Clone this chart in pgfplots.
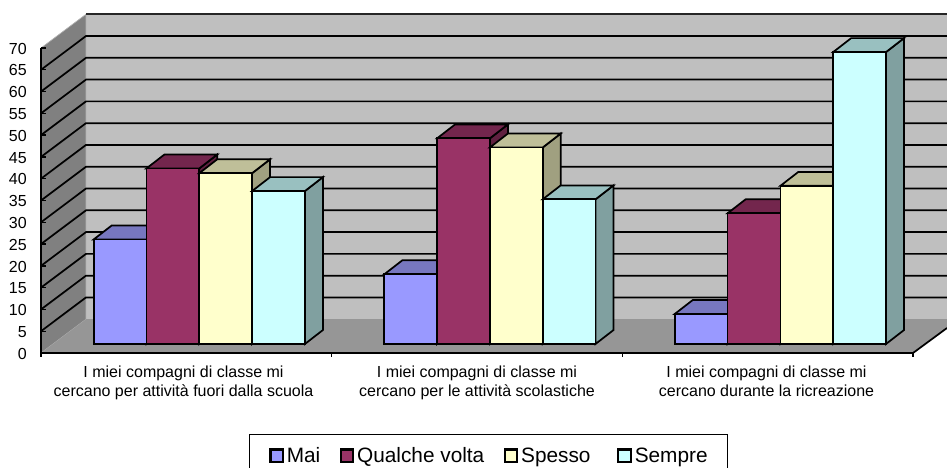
\documentclass[border=0pt]{standalone}
\usepackage{pgfplots}
\pgfplotsset{compat=1.18}
\usepackage{fontspec}
\setmainfont{Liberation Sans}
\definecolor{cMai}{HTML}{9999FF}
\definecolor{cQua}{HTML}{993366}
\definecolor{cSpe}{HTML}{FFFFCC}
\definecolor{cSem}{HTML}{CCFFFF}
\definecolor{tMai}{HTML}{7777BF}
\definecolor{tQua}{HTML}{73264D}
\definecolor{tSpe}{HTML}{BFBF99}
\definecolor{tSem}{HTML}{99C0C0}
\definecolor{sMai}{HTML}{6060A0}
\definecolor{sQua}{HTML}{602040}
\definecolor{sSpe}{HTML}{A0A080}
\definecolor{sSem}{HTML}{80A0A0}
\pgfplotsset{
  frame axis/.style={
    scale only axis, width=654pt, height=228.75pt,
    xmin=41, xmax=913, clip=false,
    at={(30.75pt,86.25pt)}, anchor=south west},
  my legend/.style={legend image code/.code={%
    \draw[##1,line width=1.6pt,draw=black] (0pt,-4.35pt) rectangle (9.5pt,5.15pt);}},
}
% back faces of one box: x of the bar centre, value, top colour, side colour
\newcommand{\faces}[4]{%
  \pgfmathsetmacro{\xl}{#1-26.4}\pgfmathsetmacro{\xr}{#1+26.4}%
  \pgfmathsetmacro{\xlb}{\xl+18}\pgfmathsetmacro{\xrb}{\xr+18}%
  \pgfmathsetmacro{\vb}{#2+3.2}%
  \addplot[forget plot,fill=#4,draw=black,line width=1.3pt] coordinates {(\xr,0)(\xrb,3.2)(\xrb,\vb)(\xr,#2)} --cycle;
  \addplot[forget plot,fill=#3,draw=black,line width=1.3pt] coordinates {(\xl,#2)(\xlb,\vb)(\xrb,\vb)(\xr,#2)} --cycle;
}
\begin{document}
\begin{tikzpicture}
\useasboundingbox (0,0) rectangle (710.25pt,351pt);
% frame: walls, floor, grid, axis
\begin{axis}[frame axis,
  axis on top,
  ymin=0, ymax=70,
  axis y line*=left, axis x line*=bottom,
  axis line style={-,line width=1.4pt},
  ytick={0,5,...,70},
  tick style={draw=black,line width=1pt},
  major tick length=3.6pt,
  /pgf/number format/assume math mode=true,
  yticklabel style={font=\fontsize{12}{14}\selectfont,xshift=-7.2pt,yshift=-.5pt},
  xtick={183.5,477,766.5},
  xtick style={draw=none},
  xticklabels={{I miei compagni di classe mi\\cercano per attività fuori dalla scuola},
               {I miei compagni di classe mi\\cercano per le attività scolastiche},
               {I miei compagni di classe mi\\cercano durante la ricreazione}},
  xticklabel style={font=\fontsize{12}{14}\selectfont,align=center,yshift=-6.3pt},
]
\addplot[forget plot,fill=black!25!white,draw=none] coordinates {(86,7.75)(947,7.75)(947,77.75)(86,77.75)} --cycle;
\addplot[forget plot,fill=black!50!white,draw=black!30,line width=.5pt] coordinates {(41,0)(86,7.75)(86,77.75)(41,70)} --cycle;
\addplot[forget plot,fill=black!41!white,draw=none] coordinates {(41,0)(86,7.75)(947,7.75)(947,5.74)(913,0)} --cycle;
\addplot[forget plot,black,line width=1.3pt] coordinates {(913,0)(947,5.74)};
\addplot[forget plot,black!85,line width=1.3pt] coordinates {(86,77.75)(947,77.75)};
\pgfplotsinvokeforeach{5,10,...,65}{%
  \pgfmathsetmacro{\vb}{#1+7.75}%
  \addplot[forget plot,black,line width=1.3pt] coordinates {(41,#1)(86,\vb)(947,\vb)};
}
\pgfplotsinvokeforeach{41,331.7,622.3,913}{%
  \addplot[forget plot,black,line width=1pt] coordinates {(#1,0)(#1,-0.9)};
}
\end{axis}
% boxes
\begin{axis}[frame axis, hide axis,
  ymin=-2.066, ymax=67.934,
  legend columns=-1,
  legend style={at={(axis cs:248.5,-20.66)},anchor=north west,
    draw=black,line width=.8pt,fill=white,
    font=\fontsize{15.6}{18}\selectfont,inner xsep=15.25pt,inner ysep=8pt,
    /tikz/every even column/.append style={column sep=12.5pt},
    /tikz/every odd column/.append style={column sep=0pt}},
]
\faces{120.1}{24}{tMai}{sMai}
\faces{410.7}{16}{tMai}{sMai}
\faces{701.2}{6.9}{tMai}{sMai}
\addplot[ybar,bar width=52.8,bar shift=-79.2,fill=cMai,draw=black,line width=1.3pt,my legend] coordinates {(199.3,24)(489.9,16)(780.4,6.9)};
\faces{172.9}{40.3}{tQua}{sQua}
\faces{463.5}{47.2}{tQua}{sQua}
\faces{754}{30}{tQua}{sQua}
\addplot[ybar,bar width=52.8,bar shift=-26.4,fill=cQua,draw=black,line width=1.3pt,my legend] coordinates {(199.3,40.3)(489.9,47.2)(780.4,30)};
\faces{225.7}{39.2}{tSpe}{sSpe}
\faces{516.3}{45.1}{tSpe}{sSpe}
\faces{806.8}{36.3}{tSpe}{sSpe}
\addplot[ybar,bar width=52.8,bar shift=26.4,fill=cSpe,draw=black,line width=1.3pt,my legend] coordinates {(199.3,39.2)(489.9,45.1)(780.4,36.3)};
\faces{278.5}{35.1}{tSem}{sSem}
\faces{569.1}{33.2}{tSem}{sSem}
\faces{859.6}{67}{tSem}{sSem}
\addplot[ybar,bar width=52.8,bar shift=79.2,fill=cSem,draw=black,line width=1.3pt,my legend] coordinates {(199.3,35.1)(489.9,33.2)(780.4,67)};
\legend{Mai,Qualche volta,Spesso\hspace*{5.6pt},Sempre\hspace*{-2.5pt}}
\end{axis}
\end{tikzpicture}
\end{document}
